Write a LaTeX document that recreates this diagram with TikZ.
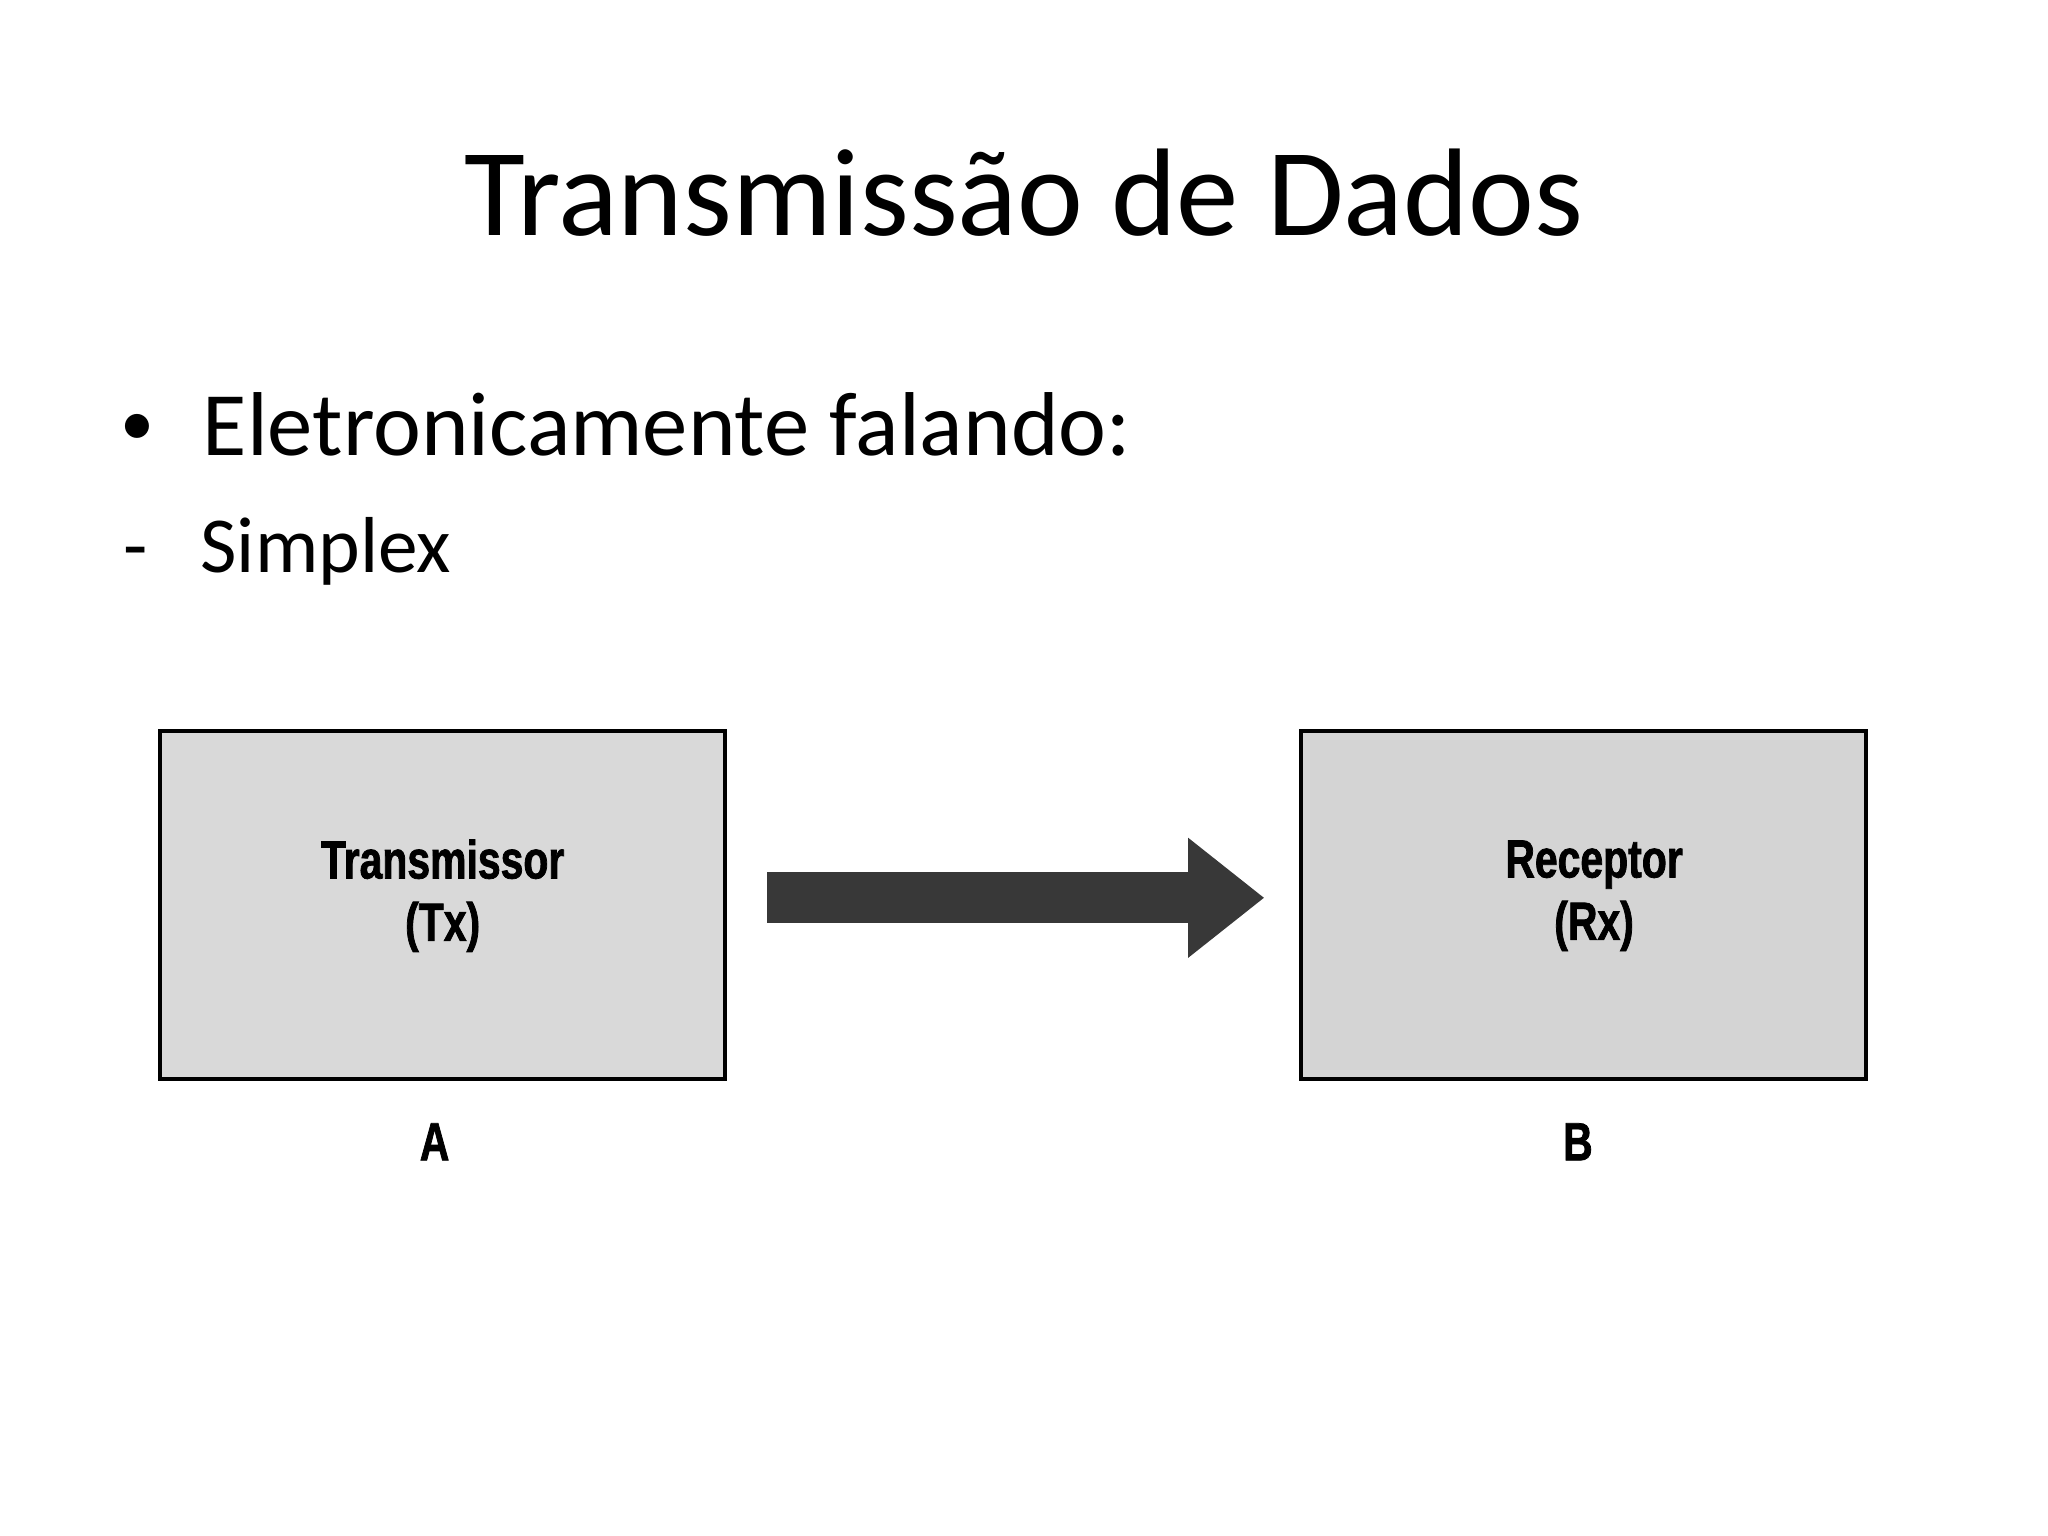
\documentclass[tikz,border=0pt]{standalone}
\usepackage{fontspec}
\setmainfont{Carlito}
\newfontfamily\boxfont[FakeStretch=0.76,BoldFeatures={FakeBold=1.4}]{Liberation Sans}
\usetikzlibrary{positioning, arrows.meta}

\tikzset{
  unitbox/.style={draw=black, line width=1.4pt, minimum width=7cm, minimum height=4.31cm,
    align=center, text depth=0.37cm, font=\boxfont\bfseries\fontsize{19}{22}\selectfont},
  sidelabel/.style={inner sep=0pt, font=\boxfont\bfseries\fontsize{19}{22}\selectfont},
  flow/.style={line width=0.63cm, draw=black!78,
    -{Triangle[length=0.94cm, width=1.49cm, line width=0pt]}},
}

\begin{document}
\begin{tikzpicture}
\useasboundingbox (0,0) rectangle (25.4,19.05);
	% slide text
	\node[anchor=base, font=\fontsize{44}{52}\selectfont] (title) at (12.7,16.13) {Transmissão de Dados};
	\node[anchor=base, font=\fontsize{24}{30}\selectfont] (dot) at (1.70,13.52) {•};
	\node[anchor=base west, inner sep=0pt, font=\fontsize{32}{38}\selectfont] (intro) at (2.51,13.40) {Eletronicamente falando:};
	\node[anchor=base west, inner sep=0pt, font=\fontsize{28}{34}\selectfont] (dash) at (1.52,11.95) {-};
	\node[anchor=base west, inner sep=0pt, font=\fontsize{28}{34}\selectfont] (mode) at (2.48,11.95) {Simplex};
	% the two ends
	\node[unitbox, fill=gray!30] (tx) at (5.49,7.825) {Transmissor\\(Tx)};
	\node[unitbox, fill=gray!34] (rx) at (19.64,7.825) {\hspace*{0.26cm}Receptor\\\hspace*{0.26cm}(Rx)};
	\node[sidelabel, below=0.52cm of tx, xshift=-0.1cm] (ta) {A};
	\node[sidelabel, below=0.52cm of rx, xshift=-0.07cm] (rb) {B};
	% one way only
	\draw[flow] ([shift={(0.5,0.09)}]tx.east) -- ([shift={(-0.44,0.09)}]rx.west);
\end{tikzpicture}
\end{document}
